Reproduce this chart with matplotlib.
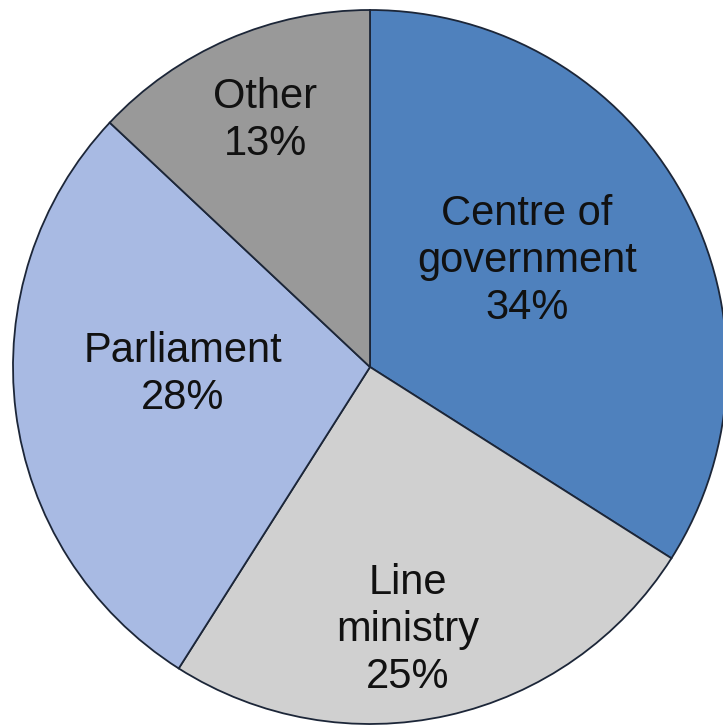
import numpy as np
import matplotlib.pyplot as plt
from matplotlib import font_manager

# Share of responses by institution
labels = ["Centre of\ngovernment", "Line\nministry", "Parliament", "Other"]
shares = [34, 25, 28, 13]
colors = ["#4F81BD", "#D0D0D0", "#A8BAE3", "#999999"]

# where each label sits, as (radius, angle in degrees) from the pie centre
label_radius = [0.53, 0.745, 0.525, 0.75]
label_angle = [34, -81.8, 182.4, 113]

# Arial Narrow look-alike if present, plain Liberation Sans otherwise
fonts = {f.name for f in font_manager.fontManager.ttflist}
if "Liberation Sans Narrow" in fonts:
    font_kw = dict(family="Liberation Sans Narrow", fontsize=33)
else:
    font_kw = dict(family="Liberation Sans", fontsize=30)

fig = plt.figure(figsize=(7.23, 7.26), dpi=100)
ax = fig.add_axes([0, 0, 1, 1])

# pie of radius 1 centred at pixel (370, 367), 357 px per unit
scale = 357.0
cx, cy = 370.0, 367.0

wedges, _ = ax.pie(shares, colors=colors, startangle=90, counterclock=False,
                   radius=1.0, center=(0, 0), frame=True,
                   wedgeprops=dict(edgecolor="#1C2638", linewidth=1.3))
ax.set_xlim(-cx / scale, (723 - cx) / scale)
ax.set_ylim((cy - 726) / scale, cy / scale)
ax.set_aspect("auto")
ax.axis("off")

for lab, val, r, a in zip(labels, shares, label_radius, label_angle):
    t = np.deg2rad(a)
    ax.text(r * np.cos(t), r * np.sin(t), "{}\n{}%".format(lab, val),
            ha="center", va="center", color="#111111", linespacing=1.22,
            **font_kw)

fig.savefig("out.png", dpi=100)
